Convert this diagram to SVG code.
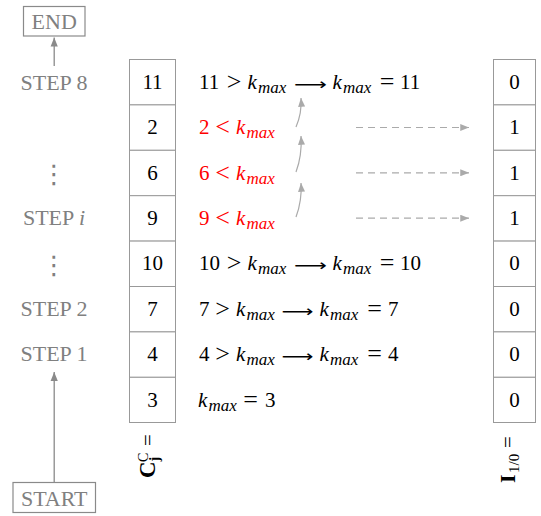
<svg xmlns="http://www.w3.org/2000/svg" width="541" height="516" viewBox="0 0 541 516">
<defs>
<marker id="ah" viewBox="0 0 10 8" refX="10" refY="4" markerWidth="9" markerHeight="7.5" markerUnits="userSpaceOnUse" orient="auto"><path d="M0,0 L10,4 L0,8 z" fill="#8a8a8a"/></marker>
<marker id="ahl" viewBox="0 0 10 8" refX="10" refY="4" markerWidth="9" markerHeight="7" markerUnits="userSpaceOnUse" orient="auto"><path d="M0,0 L10,4 L0,8 z" fill="#aaaaaa"/></marker>
<style>
.t{font-family:"Liberation Serif","Times New Roman",serif;font-size:21px;fill:#000}
.st{font-size:22px}
.g{fill:#808080}
.r{fill:#ff0000}
.i{font-style:italic}
.s{font-size:17px}
.m{text-anchor:middle}
.rel{font-size:26px;text-anchor:middle}
.ar{font-family:"DejaVu Sans",sans-serif;font-size:16px;text-anchor:middle}
.dots{font-family:"DejaVu Sans",sans-serif;font-size:26px;text-anchor:middle}
.cell{fill:#fff;stroke:#999;stroke-width:1}
.box{fill:#fff;stroke:#8a8a8a;stroke-width:1.2}
.vline{stroke:#8a8a8a;stroke-width:1.3;fill:none}
.dash{stroke:#aaaaaa;stroke-width:1.2;stroke-dasharray:7,5;fill:none}
.curve{stroke:#aaaaaa;stroke-width:1.2;fill:none}
</style>
</defs>

<g id="end">
<rect class="box" x="23.5" y="6.5" width="61.5" height="29.5"/>
<text class="t st g m" x="54.2" y="29">END</text>
</g>
<g id="start">
<rect class="box" x="13" y="482.5" width="82.5" height="30"/>
<text class="t st g m" x="54.2" y="506">START</text>
</g>

<g id="steps">
<text class="t st g m" x="54" y="90">STEP 8</text>
<text class="t g dots" x="54" y="183">⋮</text>
<text class="t st g m" x="54" y="225">STEP <tspan class="i">i</tspan></text>
<text class="t g dots" x="54" y="274">⋮</text>
<text class="t st g m" x="54" y="316">STEP 2</text>
<text class="t st g m" x="54" y="361">STEP 1</text>
</g>

<g id="col-c">
<rect class="cell" x="129.5" y="59.5" width="46" height="45.4"/>
<rect class="cell" x="129.5" y="104.9" width="46" height="45.4"/>
<rect class="cell" x="129.5" y="150.3" width="46" height="45.4"/>
<rect class="cell" x="129.5" y="195.7" width="46" height="45.4"/>
<rect class="cell" x="129.5" y="241.1" width="46" height="45.4"/>
<rect class="cell" x="129.5" y="286.5" width="46" height="45.4"/>
<rect class="cell" x="129.5" y="331.9" width="46" height="45.4"/>
<rect class="cell" x="129.5" y="377.3" width="46" height="45.2"/>
<text class="t m" x="152.5" y="89">11</text>
<text class="t m" x="152.5" y="134.3">2</text>
<text class="t m" x="152.5" y="179.7">6</text>
<text class="t m" x="152.5" y="225">9</text>
<text class="t m" x="152.5" y="270.4">10</text>
<text class="t m" x="152.5" y="315.8">7</text>
<text class="t m" x="152.5" y="361.2">4</text>
<text class="t m" x="152.5" y="406.5">3</text>
<g transform="translate(155,478) rotate(-90)">
<text class="t" x="0" y="0" style="font-weight:bold;font-size:23px">C</text>
<text class="t" x="16" y="-7" style="font-size:14px">C</text>
<text class="t" x="16.5" y="4" style="font-size:14px;font-weight:bold">j</text>
<text class="t" x="32" y="0">=</text>
</g>
</g>

<g id="col-i">
<rect class="cell" x="493.5" y="59.5" width="42" height="45.4"/>
<rect class="cell" x="493.5" y="104.9" width="42" height="45.4"/>
<rect class="cell" x="493.5" y="150.3" width="42" height="45.4"/>
<rect class="cell" x="493.5" y="195.7" width="42" height="45.4"/>
<rect class="cell" x="493.5" y="241.1" width="42" height="45.4"/>
<rect class="cell" x="493.5" y="286.5" width="42" height="45.4"/>
<rect class="cell" x="493.5" y="331.9" width="42" height="45.4"/>
<rect class="cell" x="493.5" y="377.3" width="42" height="45.2"/>
<text class="t m" x="514.5" y="89">0</text>
<text class="t m" x="514.5" y="134.3">1</text>
<text class="t m" x="514.5" y="179.7">1</text>
<text class="t m" x="514.5" y="225">1</text>
<text class="t m" x="514.5" y="270.4">0</text>
<text class="t m" x="514.5" y="315.8">0</text>
<text class="t m" x="514.5" y="361.2">0</text>
<text class="t m" x="514.5" y="406.5">0</text>
<g transform="translate(515,483) rotate(-90)">
<text class="t" x="0" y="0" style="font-weight:bold;font-size:22px">I</text>
<text class="t" x="10" y="4" style="font-size:15px">1/0</text>
<text class="t" x="35" y="0">=</text>
</g>
</g>

<g id="steps-math">
<g id="row1">
<text class="t" x="199" y="89">11</text>
<text class="t rel" x="234.2" y="90">&gt;</text>
<text class="t i" x="247.5" y="89">k</text>
<text class="t i s" x="258" y="93">max</text>
<text class="t ar" x="310.5" y="90" textLength="33" lengthAdjust="spacingAndGlyphs">⟶</text>
<text class="t i" x="332.5" y="89">k</text>
<text class="t i s" x="343" y="93">max</text>
<text class="t rel" x="387" y="90">=</text>
<text class="t" x="400" y="89">11</text>
</g>
<g id="row2">
<text class="t r" x="199" y="134.3">2</text>
<text class="t r rel" x="222.5" y="135.3">&lt;</text>
<text class="t r i" x="236" y="134.3">k</text>
<text class="t r i s" x="246.5" y="138.3">max</text>
</g>
<g id="row3">
<text class="t r" x="199" y="179.7">6</text>
<text class="t r rel" x="222.5" y="180.7">&lt;</text>
<text class="t r i" x="236" y="179.7">k</text>
<text class="t r i s" x="246.5" y="183.7">max</text>
</g>
<g id="row4">
<text class="t r" x="199" y="225">9</text>
<text class="t r rel" x="222.5" y="226">&lt;</text>
<text class="t r i" x="236" y="225">k</text>
<text class="t r i s" x="246.5" y="229">max</text>
</g>
<g id="row5">
<text class="t" x="199" y="270.4">10</text>
<text class="t rel" x="234.2" y="271.4">&gt;</text>
<text class="t i" x="247.5" y="270.4">k</text>
<text class="t i s" x="258" y="274.4">max</text>
<text class="t ar" x="310.5" y="271.4" textLength="33" lengthAdjust="spacingAndGlyphs">⟶</text>
<text class="t i" x="332.5" y="270.4">k</text>
<text class="t i s" x="343" y="274.4">max</text>
<text class="t rel" x="387" y="271.4">=</text>
<text class="t" x="400" y="270.4">10</text>
</g>
<g id="row6">
<text class="t" x="199" y="315.8">7</text>
<text class="t rel" x="222.5" y="316.8">&gt;</text>
<text class="t i" x="236" y="315.8">k</text>
<text class="t i s" x="246.5" y="319.8">max</text>
<text class="t ar" x="297.5" y="316.8" textLength="32" lengthAdjust="spacingAndGlyphs">⟶</text>
<text class="t i" x="319.5" y="315.8">k</text>
<text class="t i s" x="330" y="319.8">max</text>
<text class="t rel" x="374.5" y="316.8">=</text>
<text class="t" x="388" y="315.8">7</text>
</g>
<g id="row7">
<text class="t" x="199" y="361.2">4</text>
<text class="t rel" x="222.5" y="362.2">&gt;</text>
<text class="t i" x="236" y="361.2">k</text>
<text class="t i s" x="246.5" y="365.2">max</text>
<text class="t ar" x="297.5" y="362.2" textLength="32" lengthAdjust="spacingAndGlyphs">⟶</text>
<text class="t i" x="319.5" y="361.2">k</text>
<text class="t i s" x="330" y="365.2">max</text>
<text class="t rel" x="374.5" y="362.2">=</text>
<text class="t" x="388" y="361.2">4</text>
</g>
<g id="row8">
<text class="t i" x="198" y="406.5">k</text>
<text class="t i s" x="208.5" y="410.5">max</text>
<text class="t rel" x="250.5" y="407.5">=</text>
<text class="t" x="265" y="406.5">3</text>
</g>
</g>

<g id="connectors">
<line class="vline" x1="54.2" y1="66" x2="54.2" y2="37.5" marker-end="url(#ah)"/>
<line class="vline" x1="54.2" y1="482" x2="54.2" y2="372" marker-end="url(#ah)"/>
<path class="curve" d="M296,127 C299,120 302,112 301,98" marker-end="url(#ahl)"/>
<path class="curve" d="M296,172 C299,164 302,153 301,136" marker-end="url(#ahl)"/>
<path class="curve" d="M296,217 C299,209 302,199 301,183" marker-end="url(#ahl)"/>
<line class="dash" x1="356" y1="127.5" x2="469" y2="127.5" marker-end="url(#ahl)"/>
<line class="dash" x1="356" y1="172.8" x2="469" y2="172.8" marker-end="url(#ahl)"/>
<line class="dash" x1="356" y1="218.2" x2="469" y2="218.2" marker-end="url(#ahl)"/>
</g>
</svg>
